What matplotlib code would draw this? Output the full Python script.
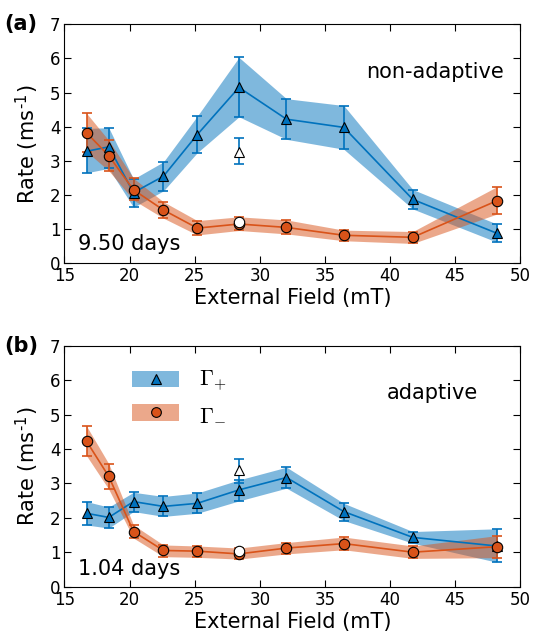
import numpy as np
import matplotlib
matplotlib.use('Agg')
import matplotlib.pyplot as plt
from matplotlib.lines import Line2D
from matplotlib.patches import Patch

## data (field in mT, rates in 1/ms)

field = [16.7, 18.4, 20.3, 22.6, 25.2, 28.4, 32.05, 36.45, 41.75, 48.2]

# (a) non-adaptive, 9.50 days
gp_a = [3.28, 3.41, 2.07, 2.55, 3.77, 5.15, 4.22, 3.98, 1.87, 0.88]
gp_a_lo = [2.65, 2.78, 1.64, 2.12, 3.24, 4.29, 3.63, 3.34, 1.59, 0.62]
gp_a_hi = [3.95, 3.97, 2.47, 2.97, 4.31, 6.03, 4.82, 4.62, 2.16, 1.15]
gm_a = [3.82, 3.15, 2.15, 1.56, 1.03, 1.15, 1.05, 0.82, 0.76, 1.83]
gm_a_lo = [3.27, 2.71, 1.85, 1.32, 0.83, 0.96, 0.86, 0.66, 0.58, 1.44]
gm_a_hi = [4.39, 3.60, 2.49, 1.80, 1.25, 1.36, 1.27, 0.97, 0.93, 2.24]
# open markers at 28.4 mT
open_a_field = 28.4
open_a_gp, open_a_gp_lo, open_a_gp_hi = 3.27, 2.90, 3.68
open_a_gm = 1.20

# (b) adaptive, 1.04 days
gp_b = [2.13, 2.01, 2.47, 2.33, 2.42, 2.81, 3.17, 2.18, 1.43, 1.18]
gp_b_lo = [1.79, 1.70, 2.18, 2.04, 2.13, 2.49, 2.86, 1.92, 1.26, 0.71]
gp_b_hi = [2.47, 2.31, 2.74, 2.62, 2.72, 3.10, 3.47, 2.42, 1.60, 1.68]
gm_b = [4.22, 3.20, 1.60, 1.05, 1.03, 0.95, 1.12, 1.25, 1.00, 1.16]
gm_b_lo = [3.80, 2.83, 1.41, 0.87, 0.85, 0.80, 0.95, 1.07, 0.82, 0.84]
gm_b_hi = [4.66, 3.57, 1.79, 1.21, 1.18, 1.12, 1.28, 1.44, 1.18, 1.48]
open_b_field = 28.4
open_b_gp, open_b_gp_lo, open_b_gp_hi = 3.39, 3.00, 3.70
open_b_gm = 1.03

blue = '#0072BD'
orange = '#D95319'

plt.rcParams['mathtext.fontset'] = 'cm'
plt.rcParams['font.family'] = 'DejaVu Sans'
plt.rcParams['axes.unicode_minus'] = False


def plot_panel(ax, gp, gp_lo, gp_hi, gm, gm_lo, gm_hi, of, ogp, ogp_lo, ogp_hi, ogm):
    x = np.array(field)
    for y, lo, hi, c, m in [(gp, gp_lo, gp_hi, blue, '^'), (gm, gm_lo, gm_hi, orange, 'o')]:
        y, lo, hi = np.array(y), np.array(lo), np.array(hi)
        ax.fill_between(x, lo, hi, color=c, alpha=0.5, lw=0)
        ax.errorbar(x, y, yerr=[y - lo, hi - y], color=c, lw=1.2, capsize=3.5,
                    elinewidth=1.2, capthick=1.2, fmt='-', zorder=3)
        ax.plot(x, y, ls='none', marker=m, ms=7.5, mfc=c, mec='k', mew=0.8, zorder=4)

    ax.errorbar([of], [ogp], yerr=[[ogp - ogp_lo], [ogp_hi - ogp]], color=blue, fmt='none',
                capsize=3.5, elinewidth=1.2, capthick=1.2, zorder=3)
    ax.plot([of], [ogp], ls='none', marker='^', ms=7.5, mfc='white', mec='k', mew=0.8, zorder=5)
    ax.plot([of], [ogm], ls='none', marker='o', ms=7.5, mfc='white', mec='k', mew=0.8, zorder=5)

    ax.set_xlim(15, 50)
    ax.set_ylim(0, 7)
    ax.set_xticks(np.arange(15, 51, 5))
    ax.set_yticks(np.arange(0, 8, 1))
    ax.tick_params(direction='in', top=True, right=True, labelsize=12, length=5, pad=3)
    ax.set_ylabel('Rate (ms$^{\\mathregular{\u20101}}$)', fontsize=15, labelpad=6)
    ax.set_xlabel('External Field (mT)', fontsize=15, labelpad=2)


fig = plt.figure(figsize=(5.33, 6.39), dpi=100)
ax1 = fig.add_axes([0.121, 0.588, 0.855, 0.374])
ax2 = fig.add_axes([0.121, 0.082, 0.855, 0.377])

plot_panel(ax1, gp_a, gp_a_lo, gp_a_hi, gm_a, gm_a_lo, gm_a_hi,
           open_a_field, open_a_gp, open_a_gp_lo, open_a_gp_hi, open_a_gm)
plot_panel(ax2, gp_b, gp_b_lo, gp_b_hi, gm_b, gm_b_lo, gm_b_hi,
           open_b_field, open_b_gp, open_b_gp_lo, open_b_gp_hi, open_b_gm)

ax1.text(0.965, 0.80, 'non-adaptive', transform=ax1.transAxes, ha='right', va='center', fontsize=15)
ax1.text(0.03, 0.04, '9.50 days', transform=ax1.transAxes, ha='left', va='bottom', fontsize=15)
ax2.text(0.908, 0.805, 'adaptive', transform=ax2.transAxes, ha='right', va='center', fontsize=15)
ax2.text(0.03, 0.03, '1.04 days', transform=ax2.transAxes, ha='left', va='bottom', fontsize=15)

handles = [(Patch(color=blue, alpha=0.5, lw=0), Line2D([0], [0], ls='none', marker='^', ms=7, mfc=blue, mec='k', mew=0.8)),
           (Patch(color=orange, alpha=0.5, lw=0), Line2D([0], [0], ls='none', marker='o', ms=7, mfc=orange, mec='k', mew=0.8))]
ax2.legend(handles, [r'$\Gamma_{+}$', r'$\Gamma_{-}$'], loc='upper left', bbox_to_anchor=(0.105, 0.985),
           frameon=False, fontsize=16, handlelength=2.1, handleheight=0.75, labelspacing=0.45,
           handletextpad=0.9)

fig.text(0.008, 0.962, '(a)', fontsize=15, fontweight='bold', va='center')
fig.text(0.008, 0.459, '(b)', fontsize=15, fontweight='bold', va='center')

fig.savefig('out.png', dpi=100)
